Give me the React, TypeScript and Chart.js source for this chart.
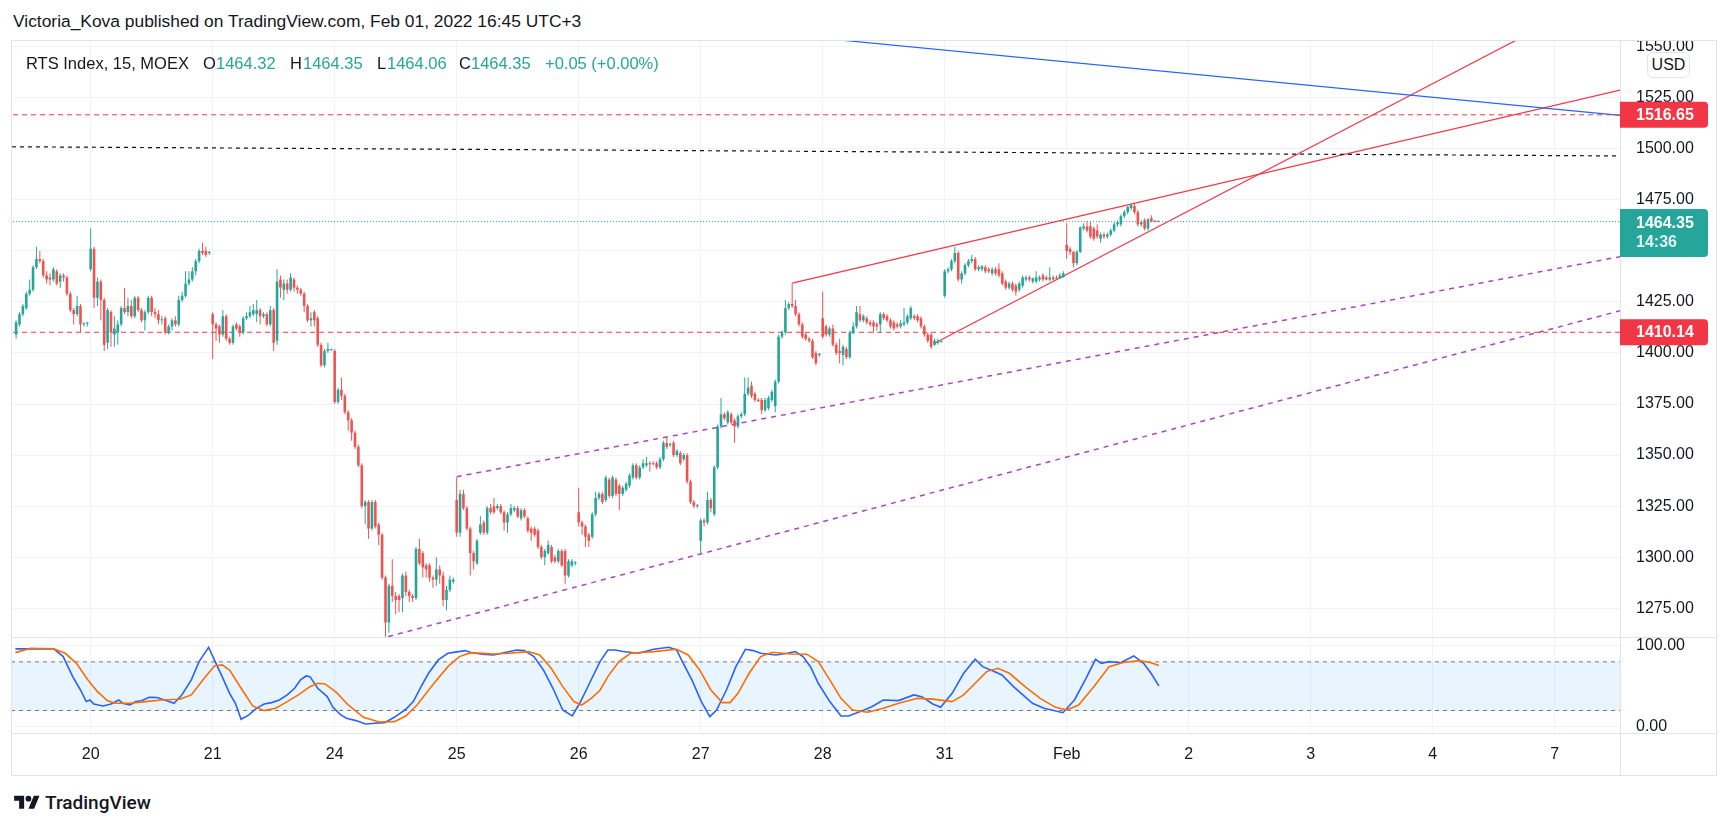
import React, { useEffect, useRef } from "react";
import { Chart, registerables } from "chart.js";

Chart.register(...registerables);

const FONT = '"Liberation Sans", Arial, sans-serif';
const TEXT = "#131722";
const UP = "#26a69a";
const DOWN = "#ef5350";
const GRID = "#f0f3fa";
const BORDER = "#e0e3eb";
const LINE_RED = "#f23645";

// ---- time axis ----
const dayLabels = ["20", "21", "24", "25", "26", "27", "28", "31", "Feb", "2", "3", "4", "7"];
const dayStartIndex = [22, 58, 94, 130, 166, 202, 238, 274, 310, 346, 382, 418, 454];
const X_MIN = -1.21;
const X_MAX = 473.27;

// ---- price / stoch ticks ----
const priceTicks = [1275, 1300, 1325, 1350, 1375, 1400, 1425, 1450, 1475, 1500, 1525, 1550];
const stochTicks = [0, 100];
const bandLevels = [80, 20];

// ---- 15m candles [open, high, low, close] ----
const jan19 = [
  [1409, 1416, 1407, 1415], [1414, 1420, 1413, 1419], [1419, 1424, 1418, 1423], [1422, 1430, 1421, 1429],
  [1429, 1436, 1428, 1431], [1431, 1443, 1430, 1442], [1442, 1452, 1441, 1446], [1446, 1450, 1444, 1445],
  [1445, 1446, 1437, 1438], [1438, 1440, 1434, 1436], [1437, 1439, 1433, 1436], [1436, 1442, 1435, 1441],
  [1440, 1441, 1433, 1434], [1435, 1439, 1432, 1438], [1438, 1439, 1435, 1437], [1437, 1438, 1428, 1429],
  [1429, 1430, 1420, 1421], [1421, 1422, 1414, 1419], [1419, 1428, 1418, 1423], [1423, 1424, 1410, 1414],
  [1414, 1415, 1413, 1414.5], [1414.5, 1415, 1413, 1414.5],
];
const jan20 = [
  [1441, 1461, 1440, 1451], [1451, 1452, 1422, 1427], [1427, 1437, 1423, 1435], [1435, 1436, 1416, 1426],
  [1426, 1427, 1401, 1404], [1405, 1422, 1402, 1421], [1420, 1421, 1403, 1410], [1409, 1418, 1403, 1412],
  [1410, 1416, 1404, 1414], [1414, 1423, 1413, 1422], [1422, 1432, 1419, 1420], [1420, 1427, 1418, 1423],
  [1423, 1426, 1417, 1418], [1418, 1428, 1417, 1427], [1427, 1428, 1420, 1421], [1421, 1422, 1415, 1416],
  [1416, 1421, 1411, 1420], [1420, 1428, 1419, 1427], [1427, 1428, 1418, 1420], [1420, 1422, 1417, 1419],
  [1419, 1421, 1414, 1416], [1416, 1418, 1414, 1416.5], [1417, 1418, 1409, 1410], [1410, 1414, 1409, 1413],
  [1413, 1417, 1411, 1416], [1416, 1418, 1413, 1414], [1414, 1428, 1413, 1426], [1426, 1430, 1425, 1428],
  [1428, 1440, 1427, 1434], [1434, 1440, 1433, 1436], [1436, 1442, 1435, 1440], [1440, 1446, 1438, 1445],
  [1445, 1451, 1444, 1450], [1450, 1454, 1448, 1449], [1450, 1452, 1447, 1448], [1449, 1450, 1448, 1449],
];
const jan21 = [
  [1419, 1420, 1397, 1414], [1414, 1415, 1406, 1412], [1413, 1414, 1405, 1409], [1409, 1421, 1408, 1418],
  [1418, 1419, 1406, 1407], [1407, 1408, 1404, 1405], [1405, 1414, 1404, 1413], [1414, 1415, 1411, 1412],
  [1413, 1414, 1408, 1410], [1410, 1418, 1409, 1417], [1417, 1420, 1416, 1418], [1418, 1423, 1417, 1420],
  [1419, 1424, 1418, 1421], [1419, 1426, 1415, 1421], [1421, 1422, 1414, 1418], [1418, 1420, 1417, 1419],
  [1419, 1420, 1413, 1414], [1414, 1423, 1413, 1421], [1421, 1422, 1401, 1405], [1406, 1441, 1404, 1435],
  [1436, 1438, 1427, 1432], [1431, 1436, 1426, 1434], [1434, 1436, 1429, 1431], [1431, 1439, 1430, 1437],
  [1436, 1437, 1430, 1432], [1432, 1433, 1429, 1431], [1431, 1432, 1428, 1429], [1429, 1430, 1420, 1423],
  [1423, 1424, 1415, 1416], [1416, 1420, 1413, 1417], [1420, 1421, 1413, 1416], [1417, 1418, 1403, 1404],
  [1404, 1405, 1393, 1394], [1394, 1402, 1393, 1401], [1401, 1405, 1400, 1402], [1401.5, 1402, 1401, 1401.5],
];
const jan24 = [
  [1401, 1402, 1375, 1376], [1376, 1383, 1375, 1382], [1382, 1388, 1377, 1379], [1379, 1380, 1370, 1371],
  [1371, 1372, 1362, 1367], [1367, 1368, 1357, 1361], [1361, 1362, 1353, 1354], [1354, 1355, 1344, 1345],
  [1345, 1346, 1324, 1325], [1325, 1328, 1316, 1327], [1327, 1328, 1309, 1314], [1314, 1328, 1313, 1327],
  [1327, 1328, 1314, 1315], [1316, 1317, 1306, 1311], [1311, 1312, 1289, 1290], [1290, 1291, 1261, 1268],
  [1268, 1287, 1263, 1286], [1286, 1299, 1278, 1281], [1281, 1283, 1272, 1279], [1281, 1282, 1273, 1279],
  [1280, 1292, 1273, 1291], [1291, 1293, 1281, 1283], [1283, 1284, 1278, 1281], [1281, 1282, 1278, 1280],
  [1280, 1305, 1279, 1304], [1304, 1309, 1296, 1297], [1302, 1303, 1290, 1295], [1296, 1297, 1290, 1294],
  [1296, 1297, 1288, 1290], [1290, 1291, 1285, 1289], [1289, 1300, 1286, 1294], [1294, 1296, 1287, 1291],
  [1291, 1293, 1276, 1279], [1279, 1286, 1274, 1284], [1284, 1291, 1283, 1289], [1288, 1290, 1287, 1289],
];
const jan25 = [
  [1328, 1339, 1310, 1312], [1312, 1333, 1310, 1331], [1331, 1333, 1323, 1324], [1324, 1325, 1313, 1314],
  [1314, 1315, 1291, 1302], [1302, 1303, 1294, 1298], [1297, 1309, 1296, 1308], [1312, 1320, 1311, 1316],
  [1317, 1318, 1311, 1312], [1312, 1325, 1311, 1324], [1324, 1326, 1321, 1322], [1325, 1329, 1321, 1322],
  [1324, 1326, 1323, 1325], [1325, 1326, 1321, 1322], [1322, 1323, 1313, 1317], [1317, 1322, 1312, 1321],
  [1321, 1326, 1320, 1324], [1323, 1325, 1322, 1324], [1324, 1325, 1319, 1320], [1319, 1324, 1318, 1323],
  [1323, 1324, 1319, 1320], [1319, 1320, 1312, 1313], [1314, 1315, 1308, 1312], [1314, 1315, 1310, 1311],
  [1313, 1314, 1304, 1305], [1305, 1306, 1299, 1300], [1300, 1304, 1296, 1303], [1302, 1308, 1301, 1306],
  [1305, 1306, 1297, 1298], [1300, 1301, 1297, 1298], [1298, 1304, 1297, 1303], [1303, 1304, 1295, 1296],
  [1303, 1304, 1287, 1291], [1291, 1299, 1290, 1298], [1296, 1299, 1295, 1298], [1297, 1298, 1296, 1297.5],
];
const jan26 = [
  [1322, 1334, 1315, 1317], [1317, 1318, 1311, 1315], [1315, 1316, 1305, 1310], [1311, 1312, 1305, 1308],
  [1310, 1322, 1309, 1321], [1321, 1332, 1320, 1329], [1329, 1332, 1328, 1331], [1331, 1332, 1326, 1327],
  [1328, 1340, 1327, 1339], [1338, 1339, 1329, 1330], [1330, 1340, 1329, 1339], [1338, 1339, 1330, 1331],
  [1335, 1336, 1323, 1331], [1331, 1335, 1330, 1334], [1333, 1337, 1332, 1336], [1335, 1341, 1334, 1340],
  [1339, 1346, 1338, 1345], [1345, 1346, 1338, 1339], [1339, 1345, 1338, 1344], [1344, 1348, 1343, 1346],
  [1345, 1349, 1344, 1346], [1346, 1347, 1342, 1345.5], [1346, 1347, 1345, 1345.5], [1346, 1347, 1343, 1344],
  [1344, 1349, 1343, 1348], [1348, 1357, 1347, 1356], [1356, 1359, 1353, 1354], [1355, 1356, 1354, 1355],
  [1356, 1357, 1349, 1350], [1350, 1353, 1349, 1352], [1351, 1352, 1345, 1346], [1348, 1351, 1347, 1350],
  [1350, 1351, 1336, 1337], [1337, 1338, 1326, 1327], [1327, 1328, 1324, 1325], [1325, 1326, 1324, 1325],
];
const jan27 = [
  [1308, 1319, 1302, 1318], [1318, 1319, 1315, 1317], [1317, 1332, 1316, 1328], [1328, 1329, 1322, 1324],
  [1321, 1345, 1320, 1344], [1344, 1365, 1343, 1364], [1364, 1378, 1363, 1370], [1370, 1371, 1367, 1368],
  [1366, 1372, 1365, 1371], [1370, 1371, 1365, 1366], [1367, 1368, 1356, 1364], [1364, 1370, 1363, 1369],
  [1369, 1371, 1368, 1370], [1370, 1388, 1369, 1380], [1380, 1388, 1379, 1383], [1384, 1386, 1378, 1379],
  [1380, 1381, 1376, 1377], [1377, 1378, 1376, 1376.5], [1377, 1378, 1370, 1372], [1372, 1378, 1371, 1377],
  [1373, 1379, 1372, 1378], [1377, 1382, 1376, 1381], [1374, 1387, 1371, 1386], [1386, 1409, 1385, 1408],
  [1408, 1411, 1407, 1410], [1410, 1426, 1409, 1422], [1422, 1425, 1421, 1424], [1424, 1434, 1422, 1423],
  [1423, 1426, 1418, 1419], [1419, 1420, 1413, 1414], [1414, 1415, 1407, 1408], [1409, 1410, 1406, 1407],
  [1407, 1408, 1405, 1406], [1406, 1407, 1397, 1398], [1400, 1401, 1394, 1395], [1399, 1400, 1398, 1399],
];
const jan28 = [
  [1417, 1430, 1407, 1408], [1413, 1414, 1408, 1409], [1409, 1413, 1408, 1412], [1412, 1414, 1403, 1404],
  [1404, 1405, 1399, 1400], [1401, 1407, 1395, 1400], [1399, 1404, 1394, 1403], [1402, 1403, 1397, 1398],
  [1398, 1411, 1397, 1410], [1410, 1415, 1409, 1413], [1413, 1423, 1412, 1420], [1419, 1423, 1415, 1416],
  [1416, 1419, 1415, 1418], [1417, 1418, 1414, 1415], [1415, 1416, 1413, 1414], [1415, 1416, 1410, 1413],
  [1414, 1415, 1411, 1413], [1414, 1420, 1410, 1419], [1419, 1420, 1416, 1417], [1418, 1419, 1415, 1416],
  [1416, 1417, 1412, 1413], [1415, 1416, 1411, 1412], [1414, 1415, 1412, 1413], [1413, 1416, 1412, 1414.5],
  [1414, 1422, 1413, 1415], [1415, 1419, 1414, 1418], [1417, 1423, 1416, 1422], [1418, 1419, 1416, 1417],
  [1418, 1419, 1415, 1416], [1417, 1418, 1412, 1413], [1413, 1414, 1408, 1409], [1409, 1410, 1405, 1406],
  [1409, 1410, 1402, 1403], [1404, 1407, 1403.5, 1406], [1405, 1407, 1404, 1406], [1405.5, 1406, 1405, 1405.5],
];
const jan31 = [
  [1428, 1441, 1427, 1440], [1440, 1442, 1439, 1441], [1441, 1446, 1440, 1445], [1445, 1452, 1444, 1449],
  [1449, 1450, 1435, 1436], [1436, 1440, 1434, 1439], [1439, 1444, 1438, 1443], [1443, 1446, 1442, 1445],
  [1445, 1448, 1444, 1446], [1446, 1447, 1440, 1441], [1441, 1443, 1440, 1442], [1441, 1443, 1440, 1442.5],
  [1442, 1443, 1439, 1440], [1441, 1442, 1439, 1440], [1439, 1442, 1438, 1441], [1441, 1442, 1438, 1439],
  [1441, 1444, 1437, 1438], [1439, 1440, 1433, 1434], [1435, 1436, 1431, 1432], [1432, 1435, 1431, 1434],
  [1434, 1435, 1430, 1431], [1433, 1434, 1428, 1430], [1431, 1435, 1430, 1434], [1433, 1438, 1432, 1437],
  [1436, 1438, 1435, 1437], [1437, 1438, 1435, 1436], [1435, 1437, 1434, 1436.5], [1435, 1440, 1434, 1437],
  [1436, 1438, 1435, 1437], [1438, 1439, 1435, 1436], [1437, 1438, 1435.5, 1436], [1436, 1442, 1435, 1437],
  [1437, 1438, 1435.5, 1436], [1437, 1438, 1436, 1436.5], [1436.5, 1439, 1436.5, 1438], [1437, 1440, 1437, 1439],
];
const feb01 = [
  [1453, 1463.5, 1446, 1450], [1451, 1452, 1448, 1449.5], [1449.5, 1450, 1442, 1444], [1444, 1450.5, 1443, 1449.5],
  [1449.5, 1462, 1449, 1461.5], [1461, 1463.5, 1460, 1462], [1462, 1464.5, 1459, 1460], [1462, 1464.5, 1456, 1457],
  [1461, 1462, 1455, 1456], [1460, 1463, 1456, 1457], [1456, 1459, 1454, 1458], [1458, 1459, 1456, 1457],
  [1457, 1459, 1456, 1458], [1458, 1461, 1457, 1460], [1460, 1464, 1459, 1463], [1463, 1465, 1462, 1464],
  [1463, 1468, 1462, 1467], [1467, 1470, 1466, 1469], [1469, 1472, 1468, 1471.5], [1471, 1473, 1470, 1472.5],
  [1472, 1473, 1468, 1469], [1469, 1470, 1462, 1463], [1463, 1465, 1462, 1464], [1465, 1466, 1460, 1461],
  [1461, 1466, 1460, 1465.5], [1466, 1467.5, 1464, 1464.5], [1464.5, 1465, 1464, 1464.3],
  [1464.32, 1464.35, 1464.06, 1464.35],
];

// ---- drawn levels and trend lines [barIndex, price] ----
const lastPrice = 1464.35;
const timeLeft = "14:36";
const redLevels = [1516.65, 1410.14];
const blackTrend = [[-1.21, 1501.0], [473.27, 1496.5]];
const blueTrend = [[200, 1560.2], [473.5, 1516.3]];
const wedgeUpper = [[229, 1434.2], [474, 1529.0]];
const wedgeLower = [[271, 1404.8], [455, 1563.9]];
const channelUpper = [[130, 1339.4], [474, 1447.4]];
const channelLower = [[109.8, 1261.1], [474, 1421.0]];

// ---- stochastic [barIndex, value] ----
const stochK = [
  [-0.2, 96], [11.1, 96], [13.9, 86.5], [16.7, 61.8], [19.0, 45.3], [20.7, 31], [21.8, 33], [22.9, 28], [25.7, 25.6], [28.0, 28],
  [30.3, 33], [31.4, 29], [33.6, 26.8], [35.3, 31], [37.0, 32], [39.3, 36.3], [41.6, 36], [43.8, 33], [46.6, 28.9], [48.9, 39.2],
  [51.7, 57.7], [54.0, 80.3], [56.8, 98], [58.5, 82.4], [60.8, 61.8], [63.0, 41.2], [64.7, 28.9], [66.4, 9.1], [68.7, 14.5], [70.9, 22.7],
  [73.2, 28], [75.4, 29.7], [77.7, 33], [80.0, 39.2], [82.2, 47.4], [83.9, 57.7], [85.6, 62.6], [86.7, 61.8], [89.0, 47.4], [91.8, 37.1],
  [93.5, 23.9], [95.8, 14.5], [97.5, 10.4], [100.3, 7.5], [103.1, 3.3], [105.9, 4.2], [108.7, 5], [111.6, 11.6], [115.0, 21.5], [117.2, 31],
  [119.5, 49.4], [121.7, 65.9], [124.6, 82.4], [127.4, 90.6], [129.6, 92], [132.5, 93.9], [134.2, 91.5], [137.5, 89.4], [140.9, 88.5], [144.3, 91.5],
  [147.7, 94.7], [150.0, 93.9], [152.8, 86.5], [155.6, 70], [158.4, 47.4], [161.3, 20.6], [164.1, 13.2], [166.3, 28.9], [169.2, 53.6], [172.3, 80.3],
  [174.6, 94.7], [176.8, 94.7], [179.1, 92.7], [183.6, 90.6], [188.1, 95.5], [192.6, 98], [194.9, 94.7], [196.6, 80.3], [199.4, 57.7], [202.2, 31],
  [204.7, 12.4], [206.7, 20.6], [209.6, 45.3], [212.4, 74.1], [215.2, 95.5], [217.5, 93.9], [219.7, 90.6], [224.2, 88.5], [227.6, 90.6], [229.9, 92.7],
  [232.2, 86.5], [234.4, 74.1], [236.7, 53.6], [240.1, 31], [243.4, 13.2], [245.7, 13.2], [249.1, 18.6], [252.5, 24.7], [255.9, 33], [260.4, 32.2],
  [264.9, 39.2], [267.2, 37.1], [270.5, 28], [272.8, 23.9], [276.2, 41.2], [279.6, 65.9], [283.0, 83.2], [285.2, 74.1], [288.6, 68], [290.9, 63.8],
  [294.3, 49.4], [299.9, 28.9], [303.3, 22.7], [308.9, 17.3], [312.3, 33], [315.7, 59.7], [318.5, 83.2], [320.2, 78.2], [322.5, 80.3], [325.9, 79],
  [329.8, 87.3], [332.7, 78.2], [334.9, 65.9], [337.2, 50.3],
];
const stochD = [
  [-0.2, 91.4], [4.3, 96.8], [11.1, 96], [14.5, 90.6], [17.8, 78.2], [21.2, 57.7], [24.0, 43.3], [26.9, 32.2], [29.1, 28.9], [33.6, 28.9],
  [38.2, 30.9], [42.7, 33], [48.3, 33.8], [51.7, 39.2], [55.1, 57.7], [58.5, 75], [60.8, 76.2], [63.0, 70], [66.4, 47.4], [69.8, 25.6],
  [73.2, 19.8], [76.6, 22.7], [80.0, 31], [83.3, 39.2], [86.7, 49.4], [89.0, 53.6], [91.2, 52.8], [94.6, 42], [98.0, 26.8], [102.5, 11.6],
  [107.1, 5.8], [111.6, 6.2], [115.0, 13.2], [118.3, 26.8], [122.9, 51.5], [127.4, 74.1], [130.8, 86.5], [134.2, 91.4], [140.9, 89.8], [145.4, 90.6],
  [151.1, 92.7], [154.5, 88.5], [157.9, 72.1], [161.3, 49.4], [164.6, 31], [166.9, 26.8], [169.7, 35], [172.3, 45], [174.6, 61.8], [177.9, 80.3],
  [181.3, 90.6], [188.1, 92.7], [194.9, 95.5], [198.3, 88.5], [201.7, 70], [205.0, 45.3], [208.4, 29.7], [210.7, 29.7], [213.0, 41.2], [216.3, 65.9],
  [219.7, 86.5], [223.1, 91.8], [228.8, 89.8], [233.3, 89.5], [236.7, 80.3], [240.1, 57.7], [243.4, 35], [246.8, 20.6], [251.3, 17.8], [255.9, 22.7],
  [260.4, 28.9], [266.0, 35], [270.5, 34], [276.2, 30.9], [279.6, 39.2], [283.0, 53.6], [286.4, 68], [289.7, 72.1], [293.1, 65.9], [297.7, 49.4],
  [302.2, 35], [306.7, 23.9], [310.1, 20.6], [313.5, 26.8], [318.0, 49.4], [322.5, 74.1], [327.0, 79.5], [331.5, 81.5], [334.9, 79], [337.2, 75.4],
];

const candles = [...jan19, ...jan20, ...jan21, ...jan24, ...jan25, ...jan26, ...jan27, ...jan28, ...jan31, ...feb01];

const pts = (arr: number[][]) => arr.map(([x, y]) => ({ x, y }));
const hLine = (v: number) => [{ x: X_MIN - 5, y: v }, { x: X_MAX + 5, y: v }];

function lineDs(data: any[], color: string, dash: number[], width: number, axis = "y", extra: any = {}) {
  return {
    type: "line",
    data,
    borderColor: color,
    borderWidth: width,
    borderDash: dash,
    borderCapStyle: "butt",
    pointRadius: 0,
    pointHoverRadius: 0,
    tension: 0,
    fill: false,
    xAxisID: "x",
    yAxisID: axis,
    ...extra,
  };
}

const zeroPad = (s: any) => {
  s.paddingTop = 0;
  s.paddingBottom = 0;
  s.paddingLeft = 0;
  s.paddingRight = 0;
};

const overlayPlugin = {
  id: "tvOverlay",
  afterDraw(chart: any) {
    const { ctx, chartArea, scales } = chart;
    const y = scales.y;
    const W = chart.width;
    const H = chart.height;
    ctx.save();
    ctx.strokeStyle = BORDER;
    ctx.lineWidth = 1;
    const hl = (yy: number) => {
      ctx.beginPath();
      ctx.moveTo(0, yy);
      ctx.lineTo(W, yy);
      ctx.stroke();
    };
    hl(Math.round(y.bottom) + 0.5);
    hl(Math.round(chartArea.bottom) + 0.5);
    const ax = Math.round(chartArea.right) + 0.5;
    ctx.beginPath();
    ctx.moveTo(ax, 0);
    ctx.lineTo(ax, H);
    ctx.stroke();
    ctx.strokeRect(0.5, 0.5, W - 1, H - 1);

    const badge = (price: number, color: string, lines: string[]) => {
      const py = y.getPixelForValue(price);
      const left = chartArea.right;
      const w = 88;
      const two = lines.length > 1;
      const top = two ? py - 12.6 : py - 13;
      const h = two ? 48 : 26;
      ctx.fillStyle = color;
      ctx.beginPath();
      ctx.roundRect(left, top, w, h, [0, 4, 4, 0]);
      ctx.fill();
      ctx.fillStyle = "#ffffff";
      ctx.font = `bold 16px ${FONT}`;
      ctx.textBaseline = "middle";
      ctx.textAlign = "left";
      ctx.fillText(lines[0], left + 16, two ? py + 1.5 : py + 0.5);
      if (two) {
        ctx.fillStyle = "rgba(255,255,255,0.85)";
        ctx.fillText(lines[1], left + 16, py + 21);
      }
    };
    badge(redLevels[0], LINE_RED, [redLevels[0].toFixed(2)]);
    badge(redLevels[1], LINE_RED, [redLevels[1].toFixed(2)]);
    badge(lastPrice, UP, [lastPrice.toFixed(2), timeLeft]);
    ctx.restore();
  },
};

export default function App() {
  const ref = useRef<HTMLCanvasElement>(null);

  useEffect(() => {
    const canvas = ref.current;
    if (!canvas) return;
    const colors = candles.map((c) => (c[3] >= c[0] ? UP : DOWN));
    const bodies = candles.map((c, i) => ({ x: i, y: [c[0], c[3]] }));
    const wicks = candles.map((c, i) => ({ x: i, y: [c[2], c[1]] }));

    const tickFont = { family: FONT, size: 16 };

    const chart = new Chart(canvas, {
      type: "bar",
      data: {
        datasets: [
          {
            type: "bar",
            data: bodies,
            backgroundColor: colors,
            borderWidth: 0,
            grouped: false,
            maxBarThickness: 2.6,
            barPercentage: 1,
            categoryPercentage: 1,
            minBarLength: 1,
            inflateAmount: 0,
            xAxisID: "x",
            yAxisID: "y",
          } as any,
          {
            type: "bar",
            data: wicks,
            backgroundColor: colors,
            borderWidth: 0,
            grouped: false,
            maxBarThickness: 1,
            barPercentage: 1,
            categoryPercentage: 1,
            minBarLength: 1,
            inflateAmount: 0,
            xAxisID: "x",
            yAxisID: "y",
          } as any,
          lineDs(pts(stochD), "#ff6d00", [], 1.6, "y2"),
          lineDs(pts(stochK), "#2962ff", [], 1.6, "y2"),
          lineDs(hLine(bandLevels[0]), "#787b86", [4, 4], 1, "y2", {
            fill: "+1",
            backgroundColor: "rgba(33,150,243,0.1)",
          }),
          lineDs(hLine(bandLevels[1]), "#787b86", [4, 4], 1, "y2"),
          lineDs(hLine(lastPrice), UP, [1, 2], 1),
          lineDs(hLine(redLevels[0]), LINE_RED, [5, 4], 1),
          lineDs(hLine(redLevels[1]), LINE_RED, [5, 4], 1),
          lineDs(pts(blackTrend), "#131722", [4, 4], 1.2),
          lineDs(pts(blueTrend), "#2962ff", [], 1.2),
          lineDs(pts(wedgeUpper), LINE_RED, [], 1.2),
          lineDs(pts(wedgeLower), LINE_RED, [], 1.2),
          lineDs(pts(channelUpper), "#ab47bc", [5, 5], 1.5),
          lineDs(pts(channelLower), "#ab47bc", [5, 5], 1.5),
        ] as any,
      },
      options: {
        responsive: false,
        animation: false,
        devicePixelRatio: 1,
        events: [],
        layout: { padding: { left: 1, top: 1, right: 0, bottom: 0 }, autoPadding: false } as any,
        plugins: { legend: { display: false }, tooltip: { enabled: false } },
        scales: {
          x: {
            type: "linear",
            min: X_MIN,
            max: X_MAX,
            offset: false,
            grid: { color: GRID, drawTicks: false, offset: false },
            border: { display: false },
            ticks: {
              autoSkip: false,
              maxRotation: 0,
              minRotation: 0,
              padding: 12,
              color: TEXT,
              font: tickFont,
              callback: (_v: any, i: number) => dayLabels[i] ?? "",
            },
            afterBuildTicks: (s: any) => {
              s.ticks = dayStartIndex.map((v) => ({ value: v }));
            },
            afterFit: (s: any) => {
              s.height = 43;
              zeroPad(s);
            },
          },
          y: {
            type: "linear",
            position: "right",
            stack: "panes",
            stackWeight: 596,
            min: 1260.9,
            max: 1552.8,
            grid: { color: GRID, drawTicks: false },
            border: { display: false },
            ticks: {
              padding: 16,
              color: TEXT,
              font: tickFont,
              callback: (v: any) => Number(v).toFixed(2),
            },
            afterBuildTicks: (s: any) => {
              s.ticks = priceTicks.map((v) => ({ value: v }));
            },
            afterFit: (s: any) => {
              s.width = 97;
              zeroPad(s);
            },
          },
          y2: {
            type: "linear",
            position: "right",
            stack: "panes",
            stackWeight: 96,
            min: -7.8,
            max: 110.7,
            grid: { color: GRID, drawTicks: false },
            border: { display: false },
            ticks: {
              padding: 16,
              color: TEXT,
              font: tickFont,
              callback: (v: any) => Number(v).toFixed(2),
            },
            afterBuildTicks: (s: any) => {
              s.ticks = stochTicks.map((v) => ({ value: v }));
            },
            afterFit: (s: any) => {
              s.width = 97;
              zeroPad(s);
            },
          },
        } as any,
      },
      plugins: [overlayPlugin],
    } as any);
    return () => chart.destroy();
  }, []);

  const legendTop = 55;
  const lg = (left: number, text: string, color: string) => (
    <span
      style={{
        position: "absolute",
        left,
        top: legendTop,
        fontSize: 16.5,
        lineHeight: "16px",
        color,
        whiteSpace: "nowrap",
      }}
    >
      {text}
    </span>
  );

  return (
    <div
      style={{
        position: "absolute",
        left: 0,
        top: 0,
        width: 1731,
        height: 828,
        background: "#ffffff",
        fontFamily: FONT,
        color: TEXT,
        overflow: "hidden",
      }}
    >
      <div
        style={{
          position: "absolute",
          left: 13,
          top: 13,
          fontSize: 17.4,
          lineHeight: "17px",
          whiteSpace: "nowrap",
        }}
      >
        Victoria_Kova published on TradingView.com, Feb 01, 2022 16:45 UTC+3
      </div>
      <canvas
        ref={ref}
        width={1706}
        height={736}
        style={{ position: "absolute", left: 11, top: 40, width: 1706, height: 736 }}
      />
      {lg(26, "RTS Index, 15, MOEX", TEXT)}
      {lg(203, "O", TEXT)}
      {lg(216, "1464.32", UP)}
      {lg(290, "H", TEXT)}
      {lg(303, "1464.35", UP)}
      {lg(377, "L", TEXT)}
      {lg(387, "1464.06", UP)}
      {lg(459, "C", TEXT)}
      {lg(471, "1464.35", UP)}
      {lg(545, "+0.05 (+0.00%)", UP)}
      <div
        style={{
          position: "absolute",
          left: 1647,
          top: 52,
          width: 43,
          height: 26,
          boxSizing: "border-box",
          border: `1px solid ${BORDER}`,
          borderRadius: 6,
          background: "#ffffff",
          fontSize: 16,
          lineHeight: "24px",
          textAlign: "center",
        }}
      >
        USD
      </div>
      <div style={{ position: "absolute", left: 14, top: 793, display: "flex", alignItems: "center" }}>
        <svg width="26" height="20" viewBox="0 0 36 28">
          <path d="M14 22H7V11H0V4h14v18z" fill={TEXT} />
          <path d="M28 22h-8l7.5-18h8L28 22z" fill={TEXT} />
          <circle cx="20" cy="8" r="4" fill={TEXT} />
        </svg>
        <span style={{ marginLeft: 5, fontFamily: "Roboto, sans-serif", fontWeight: 500, fontSize: 19, lineHeight: "20px" }}>
          TradingView
        </span>
      </div>
    </div>
  );
}
